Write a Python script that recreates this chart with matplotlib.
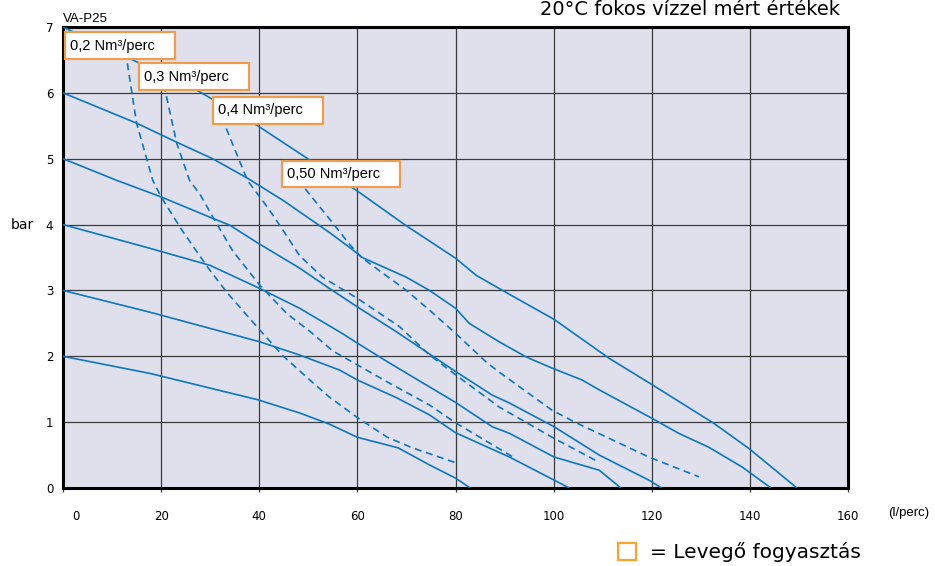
import matplotlib
matplotlib.use("Agg")
import matplotlib.pyplot as plt
from matplotlib.patches import Rectangle
from matplotlib.transforms import ScaledTranslation

# ---------------- data ----------------
x_ticks = [0, 20, 40, 60, 80, 100, 120, 140, 160]
y_ticks = [0, 1, 2, 3, 4, 5, 6, 7]

# pump curves (solid), inlet air pressure 7..2 bar
p7_x = [0, 14.2, 27.3, 39.7, 50.3, 59.8, 70, 80, 84.2, 90.3, 100.1, 111.3, 119.4, 132.7, 139.8, 149.6]
p7_y = [7, 6.5, 6.04, 5.5, 4.98, 4.52, 3.98, 3.49, 3.23, 2.97, 2.56, 1.97, 1.6, 0.98, 0.6, 0]

p6_x = [0, 15, 23.2, 30.5, 37.7, 45, 54.3, 59, 61, 70, 74.7, 80, 82.8, 88.9, 94.4, 99.7, 105.8, 109.3, 120, 125.5, 131.6, 138.4, 144.3]
p6_y = [6, 5.54, 5.25, 5.0, 4.7, 4.36, 3.88, 3.62, 3.5, 3.2, 3.0, 2.73, 2.5, 2.22, 1.99, 1.82, 1.64, 1.49, 1.06, 0.83, 0.62, 0.32, 0]

p5_x = [0, 11, 20, 30, 34, 39.7, 48.2, 54.3, 60, 68, 72.6, 80, 87.5, 91, 100.1, 109.3, 119.4, 122]
p5_y = [5, 4.67, 4.42, 4.11, 3.99, 3.72, 3.34, 3.03, 2.75, 2.37, 2.14, 1.77, 1.41, 1.29, 0.93, 0.5, 0.12, 0]

p4_x = [0, 17.7, 30, 40.1, 48.2, 56.4, 60, 66.5, 80, 87.5, 91, 100.1, 109.3, 113.7]
p4_y = [4, 3.64, 3.38, 3.03, 2.73, 2.37, 2.2, 1.9, 1.3, 0.93, 0.83, 0.47, 0.27, 0]

p3_x = [0, 17.7, 40.1, 48.2, 56.4, 60, 68, 74.7, 80, 91, 100.1, 103.2]
p3_y = [3, 2.67, 2.22, 2.02, 1.79, 1.64, 1.37, 1.11, 0.84, 0.47, 0.12, 0]

p2_x = [0, 17.7, 39.7, 48.2, 54.3, 60, 68.3, 74.7, 80, 83]
p2_y = [2, 1.74, 1.34, 1.14, 0.97, 0.77, 0.61, 0.35, 0.15, 0]

# air consumption curves (dashed)
a02_x = [12.5, 13, 15, 18.3, 20, 24.2, 29.5, 33.4, 40.1, 44.8, 50.3, 54.3, 60, 66.1, 71.2, 79.8]
a02_y = [6.8, 6.5, 5.54, 4.67, 4.42, 3.92, 3.35, 2.97, 2.4, 2.01, 1.64, 1.38, 1.07, 0.77, 0.61, 0.39]

a03_x = [20.5, 20.8, 23.2, 25.8, 28, 30.8, 34.6, 40.1, 45.6, 50.3, 55, 60, 66.1, 74.7, 79.8, 91.5]
a03_y = [6.3, 6.04, 5.23, 4.67, 4.45, 4.08, 3.6, 3.08, 2.65, 2.38, 2.08, 1.87, 1.61, 1.26, 1.0, 0.48]

a04_x = [32, 33, 37.6, 41.7, 44.8, 48.2, 52.9, 60, 68.6, 74.7, 80, 88.9, 99.7, 109.3]
a04_y = [5.8, 5.51, 4.67, 4.26, 3.92, 3.53, 3.2, 2.88, 2.45, 2.02, 1.72, 1.23, 0.77, 0.39]

a05_x = [47, 49.6, 54.7, 58.4, 61, 70, 74.7, 80, 86.3, 88.9, 99.7, 104.6, 119.4, 129.6]
a05_y = [4.85, 4.52, 4.05, 3.7, 3.49, 3.0, 2.7, 2.35, 1.91, 1.76, 1.18, 0.99, 0.47, 0.17]

air_labels = ["0,2 Nm³/perc", "0,3 Nm³/perc", "0,4 Nm³/perc", "0,50 Nm³/perc"]

# ---------------- layout / style ----------------
W, H = 935, 566
fig = plt.figure(figsize=(W / 100, H / 100), dpi=100)
ax_left, ax_right, ax_top, ax_bottom = 63, 848, 27, 488
ax = fig.add_axes([ax_left / W, (H - ax_bottom) / H, (ax_right - ax_left) / W, (ax_bottom - ax_top) / H])

BG = "#e0e0ed"
BLUE = "#0b77bd"
ORANGE = "#ef9d4c"
ax.set_facecolor(BG)
ax.set_xlim(0, 160)
ax.set_ylim(0, 7)
ax.set_xticks(x_ticks)
ax.set_yticks(y_ticks)
ax.grid(True, color="#3c3c3c", lw=0.9, zorder=1)
ax.set_axisbelow(True)
for s in ax.spines.values():
    s.set_linewidth(2.2)
    s.set_color("black")

ax.tick_params(axis="x", length=3, width=0.9, color="#3c3c3c", pad=13, labelsize=8.5)
ax.tick_params(axis="y", length=0, pad=7, labelsize=8.5)
fig.canvas.draw()
lab0 = ax.get_xticklabels()[0]
lab0.set_transform(lab0.get_transform() + ScaledTranslation(0.13, 0, fig.dpi_scale_trans))

solid = [(p7_x, p7_y), (p6_x, p6_y), (p5_x, p5_y), (p4_x, p4_y), (p3_x, p3_y), (p2_x, p2_y)]
for xs, ys in solid:
    ax.plot(xs, ys, color=BLUE, lw=1.2, zorder=3, solid_capstyle="butt", solid_joinstyle="round")

dashed = [(a02_x, a02_y), (a03_x, a03_y), (a04_x, a04_y), (a05_x, a05_y)]
for xs, ys in dashed:
    ax.plot(xs, ys, color=BLUE, lw=1.2, ls=(0, (4.2, 2.8)), zorder=3)

# label boxes (x0, y0, x1, y1 in data units)
boxes = [(0.41, 6.51, 22.83, 6.92), (15.49, 6.04, 37.91, 6.45),
         (30.57, 5.53, 53.0, 5.94), (44.6, 4.57, 68.7, 4.97)]
for (x0, y0, x1, y1), txt in zip(boxes, air_labels):
    ax.add_patch(Rectangle((x0, y0), x1 - x0, y1 - y0, facecolor="white",
                           edgecolor=ORANGE, lw=1.6, zorder=5, clip_on=False))
    ax.text(x0 + 1.0, (y0 + y1) / 2, txt, ha="left", va="center", fontsize=10.5,
            family="Liberation Sans", zorder=6)

# texts
fig.text(63 / W, 1 - 22 / H, "VA-P25", ha="left", va="baseline", fontsize=9.5, family="Liberation Sans")
fig.text(690 / W, 1 - 15 / H, "20°C fokos vízzel mért értékek", ha="center", va="baseline",
         fontsize=14, family="DejaVu Sans")
fig.text(22 / W, 1 - 225 / H, "bar", ha="center", va="center", fontsize=10, family="DejaVu Sans")
fig.text(909 / W, 1 - 513 / H, "(l/perc)", ha="center", va="center", fontsize=9.5, family="Liberation Sans")

fig.patches.append(Rectangle((618 / W, 1 - 560 / H), 18 / W, 17 / H, transform=fig.transFigure,
                             facecolor="none", edgecolor="#f7a52a", lw=1.6))
fig.text(650 / W, 1 - 558 / H, "= Levegő fogyasztás", ha="left", va="baseline", fontsize=14.5,
         family="DejaVu Sans")

fig.savefig("out.png", dpi=100)
